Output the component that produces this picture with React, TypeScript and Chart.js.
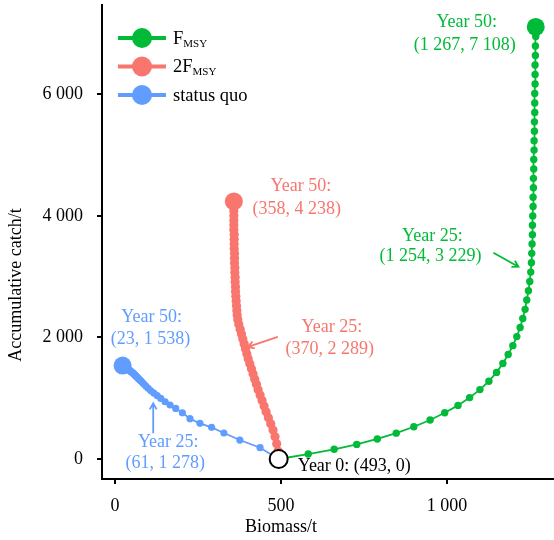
import React, { useEffect, useRef } from 'react';
import { Chart, registerables } from 'chart.js';

Chart.register(...registerables);

// ---------- data ----------
const fmsyBiomass = [
  493, 582, 660, 728, 790, 847, 900, 949, 993, 1033, 1068, 1099, 1126, 1149, 1168, 1184, 1198, 1210, 1220, 1228, 1235, 1240, 1245, 1249, 1252,
  1254, 1255, 1256, 1257, 1257, 1258, 1259, 1259, 1260, 1260, 1261, 1261, 1262, 1262, 1263, 1263, 1264, 1264, 1264, 1265, 1265, 1265, 1266, 1266, 1267, 1267,
];
const fmsyCatch = [
  0, 82, 160, 240, 330, 425, 530, 642, 760, 882, 1010, 1142, 1280, 1425, 1570, 1718, 1865, 2014, 2163, 2312, 2462, 2615, 2767, 2920, 3075,
  3229, 3383, 3537, 3691, 3845, 3999, 4153, 4307, 4462, 4617, 4772, 4927, 5082, 5237, 5392, 5547, 5702, 5858, 6014, 6170, 6326, 6482, 6638, 6794, 6951, 7108,
];
const f2Biomass = [
  493, 491, 487, 482, 476, 469, 462, 455, 449, 443, 437, 431, 426, 421, 416, 411, 406, 401, 397, 393, 389, 385, 381, 377, 373,
  370, 368, 367, 366, 365, 364, 363, 363, 362, 362, 361, 361, 360, 360, 360, 359, 359, 359, 359, 358, 358, 358, 358, 358, 358, 358,
];
const f2Catch = [
  0, 130, 252, 367, 476, 580, 680, 777, 871, 963, 1053, 1141, 1228, 1314, 1399, 1483, 1566, 1649, 1731, 1813, 1894, 1975, 2055, 2135, 2213,
  2289, 2367, 2445, 2523, 2601, 2679, 2757, 2835, 2913, 2991, 3069, 3147, 3225, 3303, 3381, 3459, 3537, 3615, 3693, 3771, 3848, 3925, 4002, 4080, 4159, 4238,
];
const sqBiomass = [
  493, 437, 376, 328, 291, 256, 226, 203, 183, 166, 151, 138, 127, 117, 108, 100, 93, 87, 82, 78, 74, 71, 68, 65, 63,
  61, 59, 57, 55, 53, 51, 49, 47, 45, 44, 42, 41, 39, 38, 37, 35, 34, 33, 32, 30, 29, 28, 27, 26, 25, 23,
];
const sqCatch = [
  0, 186, 312, 428, 521, 587, 663, 760, 832, 888, 942, 997, 1043, 1085, 1122, 1163, 1201, 1234, 1262, 1284, 1306, 1322, 1339, 1355, 1366,
  1377, 1388, 1399, 1410, 1418, 1427, 1436, 1444, 1453, 1457, 1465, 1470, 1478, 1482, 1487, 1495, 1499, 1504, 1508, 1516, 1521, 1525, 1529, 1533, 1535, 1538,
];
const startBiomass = [493];
const startCatch = [0];

const xTicks = [0, 500, 1000];
const yTicks = [0, 2000, 4000, 6000];

const seriesMain = ['F', '2F', 'status quo'];
const seriesSub = ['MSY', 'MSY', ''];

const labelsFmsy = ['Year 50:', '(1 267, 7 108)', 'Year 25:', '(1 254, 3 229)'];
const labelsF2 = ['Year 50:', '(358, 4 238)', 'Year 25:', '(370, 2 289)'];
const labelsSq = ['Year 50:', '(23, 1 538)', 'Year 25:', '(61, 1 278)'];
const labelStart = 'Year 0: (493, 0)';

const GREEN = '#00BA38';
const RED = '#F8766D';
const BLUE = '#619CFF';
const FONT = "'Liberation Serif', 'Times New Roman', serif";

const fmt = (n: number) => String(n).replace(/\B(?=(\d{3})+(?!\d))/g, ' ');

const toPts = (xs: number[], ys: number[]) => xs.map((x, i) => ({ x, y: ys[i] }));

const radii = (n: number, r: number) => Array.from({ length: n }, (_, i) => (i === n - 1 ? 9 : r));

function arrow(ctx: CanvasRenderingContext2D, x1: number, y1: number, x2: number, y2: number, color: string) {
  ctx.save();
  ctx.strokeStyle = color;
  ctx.lineWidth = 1.8;
  ctx.beginPath();
  ctx.moveTo(x1, y1);
  ctx.lineTo(x2, y2);
  const a = Math.atan2(y2 - y1, x2 - x1);
  const L = 7;
  const sp = Math.PI / 6;
  ctx.moveTo(x2 - L * Math.cos(a - sp), y2 - L * Math.sin(a - sp));
  ctx.lineTo(x2, y2);
  ctx.lineTo(x2 - L * Math.cos(a + sp), y2 - L * Math.sin(a + sp));
  ctx.stroke();
  ctx.restore();
}

const annotationPlugin = {
  id: 'annot',
  afterDatasetsDraw(chart: any) {
    const ctx: CanvasRenderingContext2D = chart.ctx;
    const xs = chart.scales.x;
    const ys = chart.scales.y;
    const P = (x: number, y: number) => [xs.getPixelForValue(x), ys.getPixelForValue(y)];
    ctx.save();
    ctx.font = `18px ${FONT}`;
    ctx.textBaseline = 'middle';
    ctx.textAlign = 'center';

    const text = (t: string, x: number, y: number, c: string, align: CanvasTextAlign = 'center') => {
      ctx.fillStyle = c;
      ctx.textAlign = align;
      ctx.fillText(t, x, y);
    };

    // F_MSY
    let [gx, gy] = P(fmsyBiomass[50], fmsyCatch[50]);
    text(labelsFmsy[0], gx - 69, gy - 5, GREEN);
    text(labelsFmsy[1], gx - 71, gy + 18, GREEN);
    [gx, gy] = P(fmsyBiomass[25], fmsyCatch[25]);
    text(labelsFmsy[2], gx - 99, gy - 26, GREEN);
    text(labelsFmsy[3], gx - 101, gy - 6, GREEN);
    arrow(ctx, gx - 38, gy - 10, gx - 13, gy + 4, GREEN);

    // 2F_MSY
    let [rx, ry] = P(f2Biomass[50], f2Catch[50]);
    text(labelsF2[0], rx + 67, ry - 15, RED);
    text(labelsF2[1], rx + 63, ry + 8, RED);
    [rx, ry] = P(f2Biomass[25], f2Catch[25]);
    text(labelsF2[2], rx + 94, ry + 7, RED);
    text(labelsF2[3], rx + 92, ry + 29, RED);
    arrow(ctx, rx + 40, ry + 17, rx + 10, ry + 27, RED);

    // status quo
    let [bx, by] = P(sqBiomass[50], sqCatch[50]);
    text(labelsSq[0], bx + 29, by - 48, BLUE);
    text(labelsSq[1], bx + 28, by - 26, BLUE);
    [bx, by] = P(sqBiomass[25], sqCatch[25]);
    text(labelsSq[2], bx + 33, by + 67, BLUE);
    text(labelsSq[3], bx + 30, by + 88, BLUE);
    arrow(ctx, bx + 18, by + 58, bx + 18, by + 28, BLUE);

    // start
    const [sx, sy] = P(startBiomass[0], startCatch[0]);
    text(labelStart, sx + 19, sy + 7, '#000', 'left');

    // legend
    const ca = chart.chartArea;
    const colors = [GREEN, RED, BLUE];
    const lx = ca.left + 16;
    const ly0 = ca.top + 33;
    seriesMain.forEach((name, i) => {
      const yy = ly0 + i * 28.5;
      ctx.strokeStyle = colors[i];
      ctx.lineWidth = 4;
      ctx.beginPath();
      ctx.moveTo(lx, yy);
      ctx.lineTo(lx + 48, yy);
      ctx.stroke();
      ctx.fillStyle = colors[i];
      ctx.beginPath();
      ctx.arc(lx + 24, yy, 10, 0, Math.PI * 2);
      ctx.fill();
      ctx.fillStyle = '#000';
      ctx.textAlign = 'left';
      ctx.font = `18.5px ${FONT}`;
      ctx.fillText(name, lx + 55, yy + 1);
      const w = ctx.measureText(name).width;
      if (seriesSub[i]) {
        ctx.font = `11px ${FONT}`;
        ctx.fillText(seriesSub[i], lx + 55 + w, yy + 6);
      }
    });

    // axis titles
    ctx.font = `18px ${FONT}`;
    ctx.fillStyle = '#000';
    ctx.textAlign = 'center';
    ctx.fillText('Biomass/t', 281, 527);
    ctx.save();
    ctx.translate(16, 285);
    ctx.rotate(-Math.PI / 2);
    ctx.fillText('Accumulative catch/t', 0, 0);
    ctx.restore();

    ctx.restore();
  },
};

export default function App() {
  const ref = useRef<HTMLCanvasElement | null>(null);

  useEffect(() => {
    document.body.style.margin = '0';
    const canvas = ref.current;
    if (!canvas) return;
    const chart = new Chart(canvas, {
      type: 'scatter',
      data: {
        datasets: [
          {
            label: 'Year 0',
            data: toPts(startBiomass, startCatch),
            pointRadius: 9,
            pointBackgroundColor: '#fff',
            pointBorderColor: '#000',
            pointBorderWidth: 2,
            showLine: false,
          },
          {
            label: 'FMSY',
            data: toPts(fmsyBiomass, fmsyCatch),
            showLine: true,
            borderColor: GREEN,
            backgroundColor: GREEN,
            borderWidth: 1.8,
            pointRadius: radii(fmsyBiomass.length, 3.7),
            pointBorderWidth: 0,
            pointBackgroundColor: GREEN,
          },
          {
            label: '2FMSY',
            data: toPts(f2Biomass, f2Catch),
            showLine: true,
            borderColor: RED,
            backgroundColor: RED,
            borderWidth: 1.8,
            pointRadius: radii(f2Biomass.length, 4.6),
            pointBorderWidth: 0,
            pointBackgroundColor: RED,
          },
          {
            label: 'status quo',
            data: toPts(sqBiomass, sqCatch),
            showLine: true,
            borderColor: BLUE,
            backgroundColor: BLUE,
            borderWidth: 1.8,
            pointRadius: radii(sqBiomass.length, 3.6),
            pointBorderWidth: 0,
            pointBackgroundColor: BLUE,
          },
        ],
      },
      options: {
        animation: false,
        responsive: false,
        devicePixelRatio: 1,
        layout: { autoPadding: false, padding: { top: 5, left: 0, right: 0, bottom: 0 } },
        plugins: { legend: { display: false }, tooltip: { enabled: false } },
        scales: {
          x: {
            type: 'linear',
            min: -39,
            max: 1322,
            afterFit: (s: any) => {
              s.height = 61;
              s.paddingLeft = 0;
              s.paddingRight = 0;
              s.paddingTop = 0;
              s.paddingBottom = 0;
            },
            afterBuildTicks: (s: any) => {
              s.ticks = xTicks.map((v) => ({ value: v }));
            },
            grid: { drawOnChartArea: false, drawTicks: true, tickLength: 5, color: '#000', lineWidth: 2 },
            border: { display: true, color: '#000', width: 2 },
            ticks: {
              color: '#000',
              font: { family: FONT, size: 18 },
              padding: 11,
              maxRotation: 0,
              callback: (v: any) => fmt(Number(v)),
            },
          },
          y: {
            type: 'linear',
            min: -329,
            max: 7469,
            afterFit: (s: any) => {
              s.width = 102;
              s.paddingLeft = 0;
              s.paddingRight = 0;
              s.paddingTop = 0;
              s.paddingBottom = 0;
            },
            afterBuildTicks: (s: any) => {
              s.ticks = yTicks.map((v) => ({ value: v }));
            },
            grid: { drawOnChartArea: false, drawTicks: true, tickLength: 5, color: '#000', lineWidth: 2 },
            border: { display: true, color: '#000', width: 2 },
            ticks: {
              color: '#000',
              font: { family: FONT, size: 18 },
              padding: 14,
              callback: (v: any) => fmt(Number(v)),
            },
          },
        },
      },
      plugins: [annotationPlugin],
    });
    return () => chart.destroy();
  }, []);

  return (
    <div style={{ position: 'fixed', left: 0, top: 0, width: 554, height: 540, background: '#fff' }}>
      <canvas ref={ref} width={554} height={540} />
    </div>
  );
}
